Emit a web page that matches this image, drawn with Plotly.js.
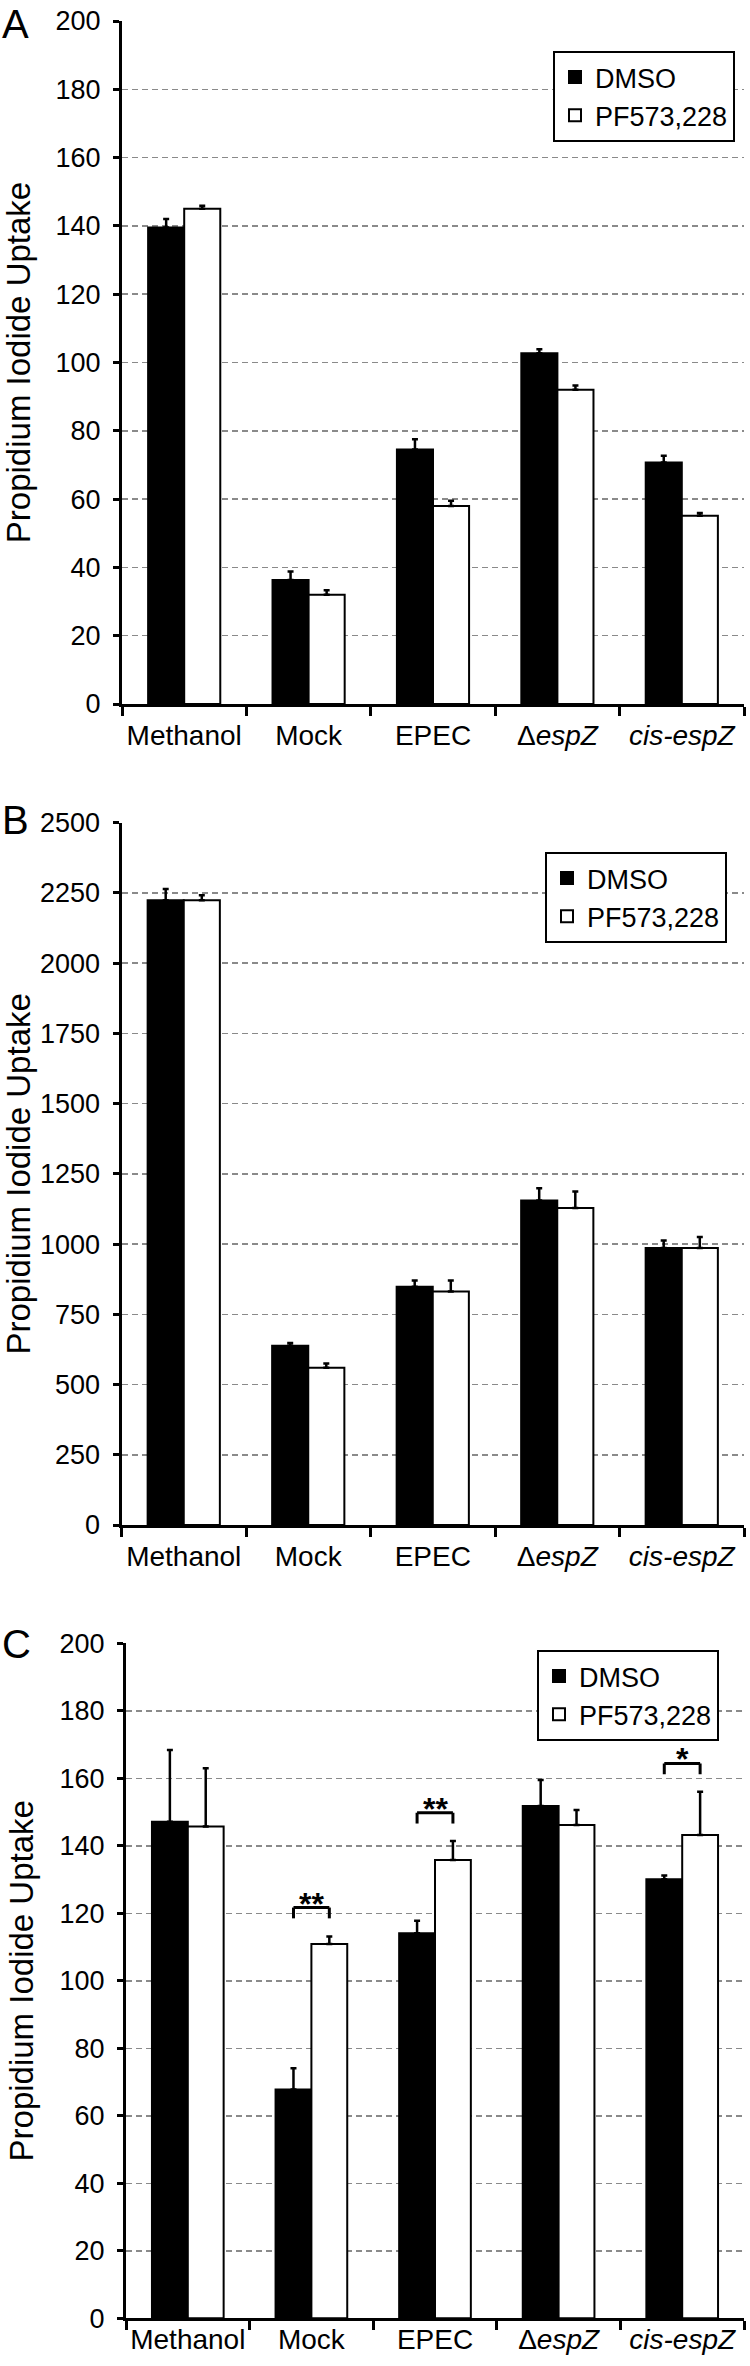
<!DOCTYPE html>
<html>
<head>
<meta charset="utf-8">
<script src="https://cdn.plot.ly/plotly-3.0.1.min.js"></script>
<style>
html,body{margin:0;padding:0;background:#ffffff;}
#chart{width:750px;height:2366px;}
</style>
</head>
<body>
<div id="chart"></div>
<script>
// ---------------- data ----------------
const categories = ['Methanol', 'Mock', 'EPEC', 'Δ<i>espZ</i>', '<i>cis-espZ</i>'];
const seriesNames = ['DMSO', 'PF573,228'];
const yTitleText = 'Propidium Iodide Uptake';
const panelLetters = ['A', 'B', 'C'];

// Panel A
const aDMSO    = [139.5, 36.3, 74.5, 102.7, 70.7];
const aDMSOErr = [2.5, 2.5, 3.0, 1.2, 2.0];
const aPF      = [145.0, 32.0, 58.0, 92.0, 55.1];
const aPFErr   = [0.9, 1.3, 1.5, 1.3, 0.8];

// Panel B
const bDMSO    = [2224, 638, 848, 1155, 986];
const bDMSOErr = [40, 10, 22, 44, 27];
const bPF      = [2224, 560, 831, 1128, 986];
const bPFErr   = [18, 15, 39, 59, 39];

// Panel C
const cDMSO    = [147.1, 67.8, 114.1, 151.8, 130.1];
const cDMSOErr = [21.3, 6.3, 3.7, 7.7, 1.1];
const cPF      = [145.7, 110.9, 135.8, 146.2, 143.2];
const cPFErr   = [17.3, 2.2, 5.6, 4.4, 12.8];

// Panel C significance brackets
const sigCategories = ['Mock', 'EPEC', '<i>cis-espZ</i>'];
const sigLabels     = ['**', '**', '*'];
const sigBracketY   = [121.7, 149.8, 164.4];

// Axis ranges / ticks
const yRanges = [[0, 200], [0, 2500], [0, 200]];
const yDticks = [20, 250, 20];

// ---------------- layout helpers ----------------
const W = 750, H = 2366;
const FONT = 'Liberation Sans, Arial, sans-serif';
const BARGAP = 0.42;
const py = p => 1 - p / H;   // pixel row -> paper y
const pxX = p => p / W;      // pixel column -> paper x

const panels = [
  {dmso: aDMSO, dmsoErr: aDMSOErr, pf: aPF, pfErr: aPFErr,
   xd: [122, 744], yd: [21, 704], legend: [553, 51], letterTop: 0, xLabStandoff: 4},
  {dmso: bDMSO, dmsoErr: bDMSOErr, pf: bPF, pfErr: bPFErr,
   xd: [121.5, 744], yd: [822.7, 1525], legend: [545, 852], letterTop: 796, xLabStandoff: 4},
  {dmso: cDMSO, dmsoErr: cDMSOErr, pf: cPF, pfErr: cPFErr,
   xd: [126, 744], yd: [1643.3, 2318.3], legend: [537, 1650], letterTop: 1620, xLabStandoff: -6}
];

const traces = [];
const layout = {
  width: W, height: H,
  margin: {l: 0, r: 0, t: 0, b: 0},
  paper_bgcolor: '#ffffff', plot_bgcolor: '#ffffff',
  font: {family: FONT, color: '#000000', size: 26},
  barmode: 'group', bargap: BARGAP, bargroupgap: 0,
  annotations: [], shapes: []
};

panels.forEach((p, k) => {
  const s = k === 0 ? '' : String(k + 1);
  const xa = 'x' + s, ya = 'y' + s, lg = 'legend' + s;
  const zeros = categories.map(() => 0);

  traces.push({
    type: 'bar', name: seriesNames[0], x: categories, y: p.dmso,
    xaxis: xa, yaxis: ya, legend: lg,
    marker: {color: '#000000', line: {color: '#000000', width: 2}},
    error_y: {type: 'data', symmetric: false, array: p.dmsoErr, arrayminus: zeros,
              color: '#000000', thickness: 2.5, width: 3},
    hoverinfo: 'skip'
  });
  traces.push({
    type: 'bar', name: seriesNames[1], x: categories, y: p.pf,
    xaxis: xa, yaxis: ya, legend: lg,
    marker: {color: '#ffffff', line: {color: '#000000', width: 2}},
    error_y: {type: 'data', symmetric: false, array: p.pfErr, arrayminus: zeros,
              color: '#000000', thickness: 2.5, width: 3},
    hoverinfo: 'skip'
  });

  layout['xaxis' + s] = {
    domain: [pxX(p.xd[0]), pxX(p.xd[1])],
    anchor: ya, type: 'category',
    showline: true, linecolor: '#000000', linewidth: 3,
    ticks: 'outside', tickson: 'boundaries', ticklen: 9, tickwidth: 3, tickcolor: '#000000',
    showgrid: false, zeroline: false,
    tickangle: 0,
    tickfont: {family: FONT, size: 28, color: '#000000'},
    ticklabelstandoff: p.xLabStandoff,
    fixedrange: true
  };
  layout['yaxis' + s] = {
    domain: [py(p.yd[1]), py(p.yd[0])],
    anchor: xa, range: yRanges[k], tick0: 0, dtick: yDticks[k],
    showline: true, linecolor: '#000000', linewidth: 3,
    ticks: 'outside', ticklen: 6, tickwidth: 3, tickcolor: '#000000',
    showgrid: true, gridcolor: '#8a8a8a', gridwidth: 1.5, griddash: '6px,4px',
    zeroline: false,
    tickfont: {family: FONT, size: 27, color: '#000000'},
    ticklabelstandoff: 7,
    title: {text: yTitleText, font: {family: FONT, size: 33, color: '#000000'}, standoff: 16},
    fixedrange: true
  };
  layout[lg] = {
    x: pxX(p.legend[0]), y: py(p.legend[1]), xanchor: 'left', yanchor: 'top',
    bgcolor: '#ffffff', bordercolor: '#000000', borderwidth: 2,
    font: {family: FONT, size: 27, color: '#000000'},
    tracegroupgap: 0
  };
  layout.annotations.push({
    xref: 'paper', yref: 'paper', x: 0, y: py(p.letterTop),
    xanchor: 'left', yanchor: 'top', showarrow: false,
    text: panelLetters[k], font: {family: FONT, size: 40, color: '#000000'}
  });
});

// significance brackets for panel C
const half = (1 - BARGAP) / 4;   // offset from category centre to each bar centre
const legLen = 3.2;
sigCategories.forEach((c, i) => {
  const idx = categories.indexOf(c);
  const x0 = idx - half, x1 = idx + half, yt = sigBracketY[i], yb = yt - legLen;
  const line = {color: '#000000', width: 3};
  layout.shapes.push({type: 'line', xref: 'x3', yref: 'y3', x0: x0, x1: x0, y0: yb, y1: yt, line: line});
  layout.shapes.push({type: 'line', xref: 'x3', yref: 'y3', x0: x0, x1: x1, y0: yt, y1: yt, line: line});
  layout.shapes.push({type: 'line', xref: 'x3', yref: 'y3', x0: x1, x1: x1, y0: yb, y1: yt, line: line});
  layout.annotations.push({
    xref: 'x3', yref: 'y3', x: idx, y: yt, xanchor: 'center', yanchor: 'bottom',
    yshift: -16, showarrow: false, text: sigLabels[i],
    font: {family: FONT, size: 32, color: '#000000', weight: 'bold'}
  });
});

Plotly.newPlot('chart', traces, layout, {staticPlot: true, displayModeBar: false});
</script>
</body>
</html>
